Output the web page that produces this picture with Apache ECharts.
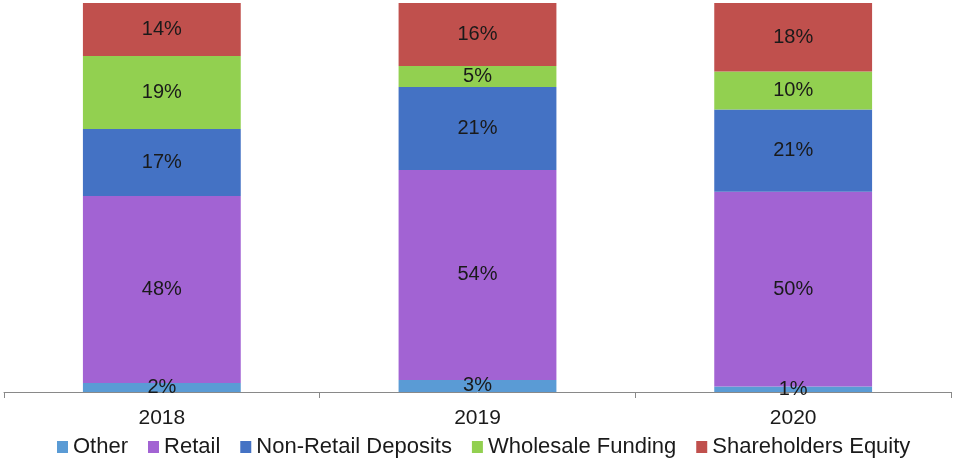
<!DOCTYPE html>
<html>
<head>
<meta charset="utf-8">
<script src="https://cdn.jsdelivr.net/npm/echarts@6/dist/echarts.min.js"></script>
<style>
  html, body { margin: 0; padding: 0; background: #fff; }
  #main { width: 955px; height: 461px; }
</style>
</head>
<body>
<div id="main"></div>
<script>
// categories and shares (%)
var years = ['2018', '2019', '2020']
var other = [2.3, 3.1, 1.4]
var retail = [48.1, 54.0, 50.1]
var nonRetail = [17.2, 21.3, 21.1]
var wholesale = [18.8, 5.4, 9.8]
var equity = [13.6, 16.2, 17.6]

var names = ['Other', 'Retail', 'Non-Retail Deposits', 'Wholesale Funding', 'Shareholders Equity']
var colors = ['#5A9BD5', '#A263D3', '#4472C4', '#92D050', '#C0504D']
var values = [other, retail, nonRetail, wholesale, equity]

var myChart = echarts.init(document.getElementById('main'))

var series = []
for (let i = 0; i < names.length; i++) {
  series.push({
    name: names[i],
    type: 'bar',
    stack: 'total',
    barCategoryGap: '50%',
    data: values[i],
    itemStyle: { color: colors[i] },
    label: {
      show: true,
      position: 'inside',
      color: '#1a1a1a',
      fontFamily: 'Liberation Sans',
      fontSize: 20,
      formatter: function (p) {
        return Math.round(p.value) + '%'
      }
    }
  })
}

var option = {
  animation: false,
  grid: { left: 4, right: 4, top: 3, bottom: 69 },
  legend: {
    top: 436,
    left: 57,
    padding: 0,
    itemWidth: 11,
    itemHeight: 12,
    itemGap: 20,
    icon: 'rect',
    textStyle: { fontFamily: 'Liberation Sans', fontSize: 22, color: '#1a1a1a' },
    data: names
  },
  xAxis: {
    type: 'category',
    data: years,
    axisLine: { lineStyle: { color: '#898989', width: 1 } },
    axisTick: { show: true, length: 6, lineStyle: { color: '#898989' } },
    axisLabel: { fontFamily: 'Liberation Sans', fontSize: 21, color: '#1a1a1a', margin: 16 }
  },
  yAxis: {
    type: 'value',
    min: 0,
    max: 100,
    show: false,
    splitLine: { show: false }
  },
  series: series
}
myChart.setOption(option)
</script>
</body>
</html>
